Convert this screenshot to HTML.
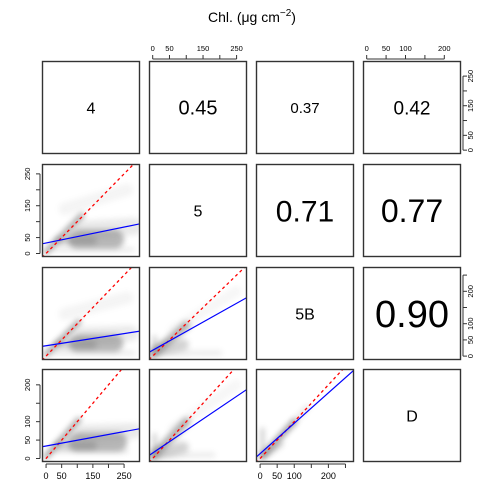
<!DOCTYPE html>
<html><head><meta charset="utf-8"><style>
html,body{margin:0;padding:0;background:#fff}
svg{display:block;font-family:"Liberation Sans",Arial,sans-serif}
</style></head><body>
<svg id="c" width="504" height="504" viewBox="0 0 504 504">
<defs>
<filter id="bl" filterUnits="userSpaceOnUse" x="0" y="0" width="504" height="504"><feGaussianBlur stdDeviation="3"/></filter>
</defs>
<text x="252" y="22" text-anchor="middle" font-size="14">Chl. (μg cm<tspan dy="-6" font-size="10">−2</tspan><tspan dy="6">)</tspan></text>
</svg>
<script>
// variables
const varNames = ["4","5","5B","D"];
const varMin = [-13,-11,-12,-9.5];
const varMax = [301,281,275,243];
const tickVals = [[0,50,100,150,200,250],[0,50,100,150,200,250],[0,50,100,150,200,250],[0,50,100,150,200]];
const tickLabels = [["0","50","","150","","250"],["0","50","","150","","250"],["0","50","100","","200",""],["0","50","100","","200"]];
// correlations (upper panels): [row,col,value,fontSize]
const corrCells = [[0,1,"0.45",20],[0,2,"0.37",15],[0,3,"0.42",19],[1,2,"0.71",30],[1,3,"0.77",32],[2,3,"0.90",38]];
// regression lines (lower panels): [row,col,intercept,slope]
const regLines = [[1,0,33,0.2],[2,0,32,0.15],[2,1,18,0.58],[3,0,34,0.156],[3,1,15,0.615],[3,2,13,0.826]];
// point clouds as bands: [row,col,x1,y1,x2,y2,thickness(data units),opacity]
const cloudBands = [
 [1,0,0,5,115,120,16,0.65],[1,0,100,45,220,45,60,0.5],[1,0,20,12,280,12,8,0.25],[1,0,120,75,280,85,55,0.15],[1,0,40,40,150,40,25,0.35],[1,0,60,140,260,200,40,0.07],
 [2,0,0,5,105,105,16,0.65],[2,0,100,40,220,40,55,0.5],[2,0,20,10,280,10,8,0.25],[2,0,120,65,270,70,50,0.15],[2,0,40,35,150,35,25,0.35],[2,0,60,130,260,180,40,0.07],
 [3,0,0,5,105,105,16,0.65],[3,0,100,45,230,45,60,0.5],[3,0,20,20,260,20,10,0.22],[3,0,120,70,280,75,50,0.15],[3,0,40,35,150,35,25,0.35],
 [2,1,0,5,100,95,24,0.55],[2,1,6,5,6,60,8,0.5],[2,1,20,8,200,10,14,0.15],[2,1,15,20,90,35,35,0.3],[2,1,60,80,250,200,30,0.06],
 [3,1,0,5,100,100,24,0.55],[3,1,6,5,6,65,8,0.5],[3,1,20,8,180,10,14,0.15],[3,1,15,15,90,30,35,0.3],[3,1,60,80,250,200,30,0.06],
 [3,2,5,5,100,100,16,0.7],[3,2,7,5,7,80,8,0.5],[3,2,100,100,140,140,12,0.22],[3,2,15,10,60,40,16,0.35]
];
const colX = [42,149,256,363], rowY = [61,164,267,369], PW = 98, PH = 93;
const NS = "http://www.w3.org/2000/svg";
const svg = document.getElementById('c');
function el(t, a, p){const e=document.createElementNS(NS,t);for(const k in a)e.setAttribute(k,a[k]);(p||svg).appendChild(e);return e;}
function sx(v,c){return colX[c]+(v-varMin[c])/(varMax[c]-varMin[c])*PW;}
function sy(v,r){return rowY[r]+PH-(v-varMin[r])/(varMax[r]-varMin[r])*PH;}
const pxPerX = c => PW/(varMax[c]-varMin[c]);
const defs=svg.querySelector('defs');
for(let r=0;r<4;r++)for(let c=0;c<4;c++){
  const cp=el('clipPath',{id:'cl'+r+c},defs);
  el('rect',{x:colX[c],y:rowY[r],width:PW,height:PH},cp);
}
// clouds
for(const b of cloudBands){
  const [r,c,x1,y1,x2,y2,th,op]=b;
  const g=el('g',{'clip-path':'url(#cl'+r+c+')'});
  const ln=el('line',{x1:sx(x1,c),y1:sy(y1,r),x2:sx(x2,c),y2:sy(y2,r),stroke:'#707070','stroke-width':th*pxPerX(c),'stroke-linecap':'round',opacity:op,filter:'url(#bl)'},g);
  
  
}
// regression + identity
for(const L of regLines){
  const [r,c,a,b]=L;
  const g=el('g',{'clip-path':'url(#cl'+r+c+')'});
  const x0=varMin[c],x1=varMax[c];
  const id=el('line',{x1:sx(x0,c),y1:sy(x0,r),x2:sx(x1,c),y2:sy(x1,r),stroke:'#ff0000','stroke-width':1.3,'stroke-dasharray':'3,3'},g);
  
  
  const rl=el('line',{x1:sx(x0,c),y1:sy(a+b*x0,r),x2:sx(x1,c),y2:sy(a+b*x1,r),stroke:'#0000ff','stroke-width':1.2},g);
  
  
}
// frames and text
for(let r=0;r<4;r++)for(let c=0;c<4;c++){
  const f=el('rect',{x:colX[c]+0.5,y:rowY[r]+0.5,width:PW-1,height:PH-1,fill:'none',stroke:'#333','stroke-width':1.4});
  
  
  if(r===c){
    const t=el('text',{x:colX[c]+PW/2,y:rowY[r]+PH/2+6,'text-anchor':'middle','font-size':16});
    t.textContent=varNames[r];
    
    
  }
}
for(const cc of corrCells){
  const [r,c,v,fs]=cc;
  const t=el('text',{x:colX[c]+PW/2,y:rowY[r]+PH/2+fs*0.36,'text-anchor':'middle','font-size':fs});
  t.textContent=v;
  
  
}
// axes
function axis(side, idx){
  const g=el('g',{});
  
  
  const tv=tickVals[idx], tl=tickLabels[idx];
  if(side==='bottom'||side==='top'){
    const c=idx, r= side==='bottom'?3:0;
    const y0 = side==='bottom'? rowY[r]+PH : rowY[r];
    const d = side==='bottom'?1:-1;
    const xs=tv.map(v=>sx(v,c));
    el('line',{x1:xs[0],y1:y0+d*2,x2:xs[xs.length-1],y2:y0+d*2,stroke:'#333'},g);
    tv.forEach((v,i)=>{
      el('line',{x1:xs[i],y1:y0+d*2,x2:xs[i],y2:y0+d*6,stroke:'#333'},g);
      if(tl[i]){const t=el('text',{x:xs[i],y:side==='bottom'?y0+17:y0-10,'text-anchor':'middle','font-size':side==='bottom'?9:7.5},g);t.textContent=tl[i];}
    });
  } else {
    const r=idx, c= side==='left'?0:3;
    const x0 = side==='left'? colX[c] : colX[c]+PW;
    const d = side==='left'?-1:1;
    const ys=tv.map(v=>sy(v,r));
    el('line',{x1:x0+d*2,y1:ys[0],x2:x0+d*2,y2:ys[ys.length-1],stroke:'#333'},g);
    tv.forEach((v,i)=>{
      el('line',{x1:x0+d*2,y1:ys[i],x2:x0+d*6,y2:ys[i],stroke:'#333'},g);
      if(tl[i]){const tx=side==='left'?x0-12:x0+12;const t=el('text',{x:tx,y:ys[i],'text-anchor':'middle','font-size':7.5,transform:'rotate(-90 '+tx+' '+ys[i]+')'},g);t.textContent=tl[i];}
    });
  }
}
axis('bottom',0);axis('bottom',2);axis('top',1);axis('top',3);
axis('left',1);axis('left',3);axis('right',0);axis('right',2);
</script>
</body></html>
